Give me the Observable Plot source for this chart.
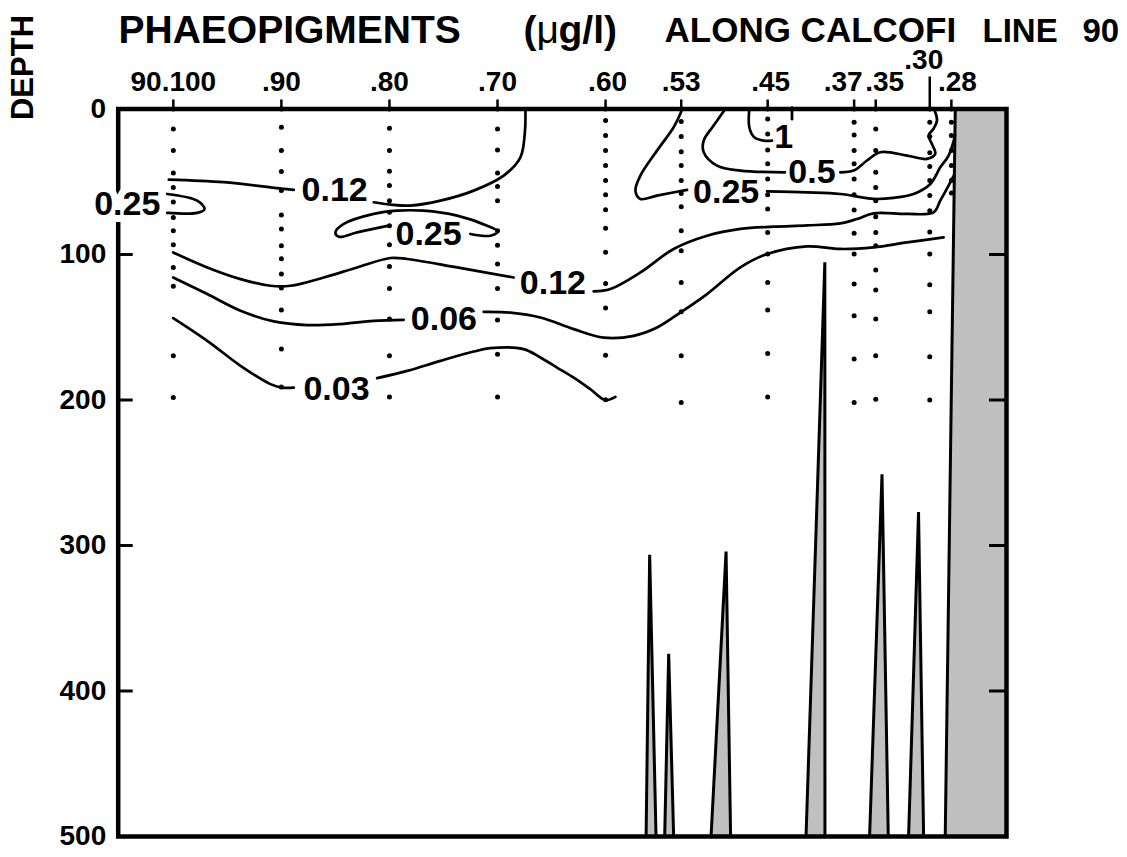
<!DOCTYPE html>
<html><head><meta charset="utf-8">
<script src="https://cdn.jsdelivr.net/npm/d3@7"></script>
<script src="https://cdn.jsdelivr.net/npm/@observablehq/plot@0.6"></script>
<style>body{margin:0;background:#fff} svg{display:block}</style>
</head><body><div id="chart"></div>
<script>
const FONT = '"Liberation Sans", Arial, Helvetica, sans-serif';

// Stations along CalCOFI line 90 (x) and tick labels
const stationNums = [100, 90, 80, 70, 60, 53, 45, 37, 35, 30, 28];
const stationLabels = ["90.100", ".90", ".80", ".70", ".60", ".53", ".45", ".37", ".35", ".30", ".28"];
const depthTicks = [0, 100, 200, 300, 400, 500];

// Bottle sample depths (m) per station
const sampleCasts = [
  [100, [0, 13.7, 28.6, 44, 54, 64, 74.5, 83.6, 93.3, 108.9, 121.9, 169.6, 198.3]],
  [90,  [0, 12.5, 28.6, 43, 56, 72.8, 82.5, 94, 103, 113.4, 123, 138.2, 165, 191]],
  [80,  [0, 13.2, 28.6, 42.8, 52.6, 63, 71, 80.2, 93.3, 108.2, 123.3, 144.4, 169.6, 197.9]],
  [70,  [0, 13.7, 28.1, 44, 53.3, 63, 83.6, 93.6, 106.5, 123.3, 145, 168.5, 197.9]],
  [60,  [0, 7.9, 18.2, 28.6, 38.9, 49.2, 59, 69.2, 82, 98.5, 119.9, 136.8, 169.2, 199.9]],
  [53,  [0, 8.6, 18.9, 29.3, 38.9, 49.2, 58, 67.1, 83.6, 97.4, 119.2, 139.4, 169.6, 201.8]],
  [45,  [0, 6.8, 17.1, 28.1, 37.7, 48.1, 59, 68.7, 84.8, 99.7, 119.2, 138.2, 168, 197.9]],
  [37,  [0, 9.1, 17.8, 28.6, 37.7, 48.1, 59, 69.4, 85.4, 99.7, 120.3, 142.1, 171.9, 201.8]],
  [35,  [0, 13.7, 28.6, 43.5, 54, 63, 74, 84.8, 94, 110.7, 124.4, 144.4, 169.6, 199.5]],
  [30,  [0, 9.1, 18.9, 30, 39.6, 49.2, 59.5, 69.9, 84.6, 99.7, 120.8, 139.4, 170.3, 200]],
  [28,  [0, 9.1, 18.2, 28.6, 38.9, 49.2, 57.8]]
];

// Bottom topography profile [station, depth]
const bottomProfile = [
  [105.1, 500], [56.25, 500], [55.92, 306.4], [55.33, 500],
  [54.53, 500], [54.16, 374.4], [53.70, 500],
  [50.24, 500], [48.85, 304.1], [48.43, 500],
  [41.45, 500], [39.71, 105.3], [39.70, 500],
  [35.57, 500], [34.42, 251], [33.84, 500],
  [31.96, 500], [31.04, 277], [30.57, 500],
  [28.57, 500], [27.64, 0], [22.9, 0], [22.9, 500]
];

// Contour line segments of phaeopigments (ug/l), [station, depth]; broken where labelled
const c012UpperA = [[100.42,48.5],[95.33,50.3],[89.9,54.8],[88.85,55.6]];
const c012UpperB = [[81.45,64.1],[79.91,65.7],[78.06,66.4],[75.28,63.0],[72.20,56.1],[69.43,45.8],[67.88,33.2],[67.48,17.1],[67.42,0]];
const c025Left = [[100.57,58.4],[97.79,63.0],[97.11,68.7],[97.79,71.4],[100.57,71.4]];
const c025Mid = [[80.06,80.2],[82.99,84.8],[84.69,87.8],[85.00,84.8],[84.23,79.0],[81.45,72.1],[79.29,69.9],[76.83,69.9],[73.74,73.3],[70.96,80.2],[69.98,84.3],[70.66,87.1],[72.51,85.9]];
const c012MainA = [[100.01,98.6],[96.86,108.9],[93.78,116.9],[91.01,121.5],[89.16,121.5],[86.08,115.8],[82.99,108.9],[79.91,102.4],[78.36,103.1],[73.74,108.9],[68.50,115.8]];
const c012MainB = [[61.10,125.4],[59.55,123.7],[56.78,112.3],[53.70,96.2],[50.61,87.1],[47.53,82.4],[44.45,80.9],[41.36,80.0],[38.28,78.6],[36.73,75.6],[35.20,71.7],[32.11,72.1],[29.65,71.0],[29.03,63.0],[28.26,52.6],[27.78,45.8]];
const c025RightA = [[52.92,0],[53.08,3.3],[53.70,12.5],[55.24,28.6],[56.78,45.8],[57.24,56.1],[56.78,61.8],[55.24,59.5],[52.46,55.6]];
const c025RightB = [[45.06,56.6],[41.36,57.3],[38.28,58.4],[35.20,61.8],[33.35,61.1],[31.50,58.4],[29.95,51.5],[29.03,40.1],[28.26,32.0],[27.66,18.2]];
const c05A = [[48.92,0],[50.00,11.4],[50.92,21.7],[50.92,29.7],[49.69,38.9],[47.53,42.3],[43.37,43.5]];
const c05B = [[38.28,43.5],[37.05,42.3],[35.81,35.4],[34.58,29.7],[32.11,32.0],[30.26,34.3],[29.49,30.8],[29.80,24.0],[30.11,18.2],[29.65,13.6],[29.33,7.9],[29.49,2.2],[29.65,0]];
const c1A = [[46.70,0],[46.70,12.5],[46.24,19.4],[45.37,21.7],[44.6,21.7]];
const c1B = [[42.75,-1],[42.75,7]];
const c006A = [[100.01,115.8],[96.86,127.2],[93.78,138.7],[90.70,146.0],[87.61,148.5],[84.53,147.8],[81.45,145.6],[78.68,144.9]];
const c006B = [[71.28,139.4],[68.81,139.9],[66.03,143.3],[62.95,151.3],[60.18,157.1],[57.40,155.9],[55.24,150.2],[53.08,139.9],[50.61,127.2],[47.53,108.9],[45.06,99.7],[41.36,94.4],[38.28,96.2],[35.20,95.1],[32.11,91.7],[28.72,88.2]];
const c003A = [[100.01,143.7],[96.86,159.3],[93.78,176.5],[91.01,189.1],[89.93,191.5],[88.85,191.5]];
const c003B = [[81.14,185.0],[78.36,180.0],[75.28,173.1],[72.20,166.7],[70.66,164.3],[67.58,165.0],[66.03,170.8],[64.49,177.7],[62.95,184.6],[61.40,192.6],[60.02,200.1],[59.09,197.9]];

// Contour labels
const labelTexts    = ["0.25", "0.12", "0.25", "0.12", "0.06", "0.03", "0.25", "0.5", "1"];
const labelStations = [104.26, 85.07, 76.38, 64.87, 74.96, 84.90, 48.84, 40.90, 43.52];
const labelDepths   = [65.2, 55.6, 85.9, 119.8, 144.4, 192.6, 57.3, 43.5, 19.4];

// ---- build tables ----
const samples = sampleCasts.flatMap(([s, ds]) => ds.map(d => ({station: s, depth: d})));
const bottom = bottomProfile.map(([s, d]) => ({station: s, depth: d}));
const segments = {c012UpperA, c012UpperB, c025Left, c025Mid, c012MainA, c012MainB, c025RightA, c025RightB,
  c05A, c05B, c1A, c1B, c006A, c006B, c003A, c003B};
const contourRows = Object.entries(segments).flatMap(([id, pts]) => pts.map(([s, d]) => ({id, station: s, depth: d})));
const contourLabels = labelTexts.map((t, i) => ({text: t, station: labelStations[i], depth: labelDepths[i]}));
const stations = stationNums.map((s, i) => ({station: s, label: stationLabels[i]}));

const W = 1127, H = 857;
const mL = 117.7, mR = 121, mT = 108.5, mB = 21;
const innerW = W - mL - mR;

const nudge = {".37": [-11, 0], ".35": [9, 0], ".30": [-6, -22], ".28": [6, 0], ".45": [3, 0], ".60": [2, 0]};
const labelMarks = stations.map(d => {
  const [ndx, ndy] = nudge[d.label] || [0, 0];
  return Plot.text([d], {x: "station", text: "label", frameAnchor: "top", lineAnchor: "middle", textAnchor: "middle",
    dy: -27 + ndy, dx: ndx, fontSize: 28, fontWeight: "bold", fontFamily: FONT, fill: "black"});
});

const titleBase = {frameAnchor: "top-left", lineAnchor: "bottom", textAnchor: "start", fontWeight: "bold", fontFamily: FONT, fill: "black"};
const labelStyle = {x: "station", y: "depth", text: "text", fontSize: 34, fontWeight: "bold", fontFamily: FONT,
  fill: "black", stroke: "white", paintOrder: "stroke", strokeLinejoin: "round"};

const chart = Plot.plot({
  width: W, height: H,
  marginLeft: mL, marginRight: mR, marginTop: mT, marginBottom: mB,
  style: {fontFamily: FONT, background: "white"},
  x: {domain: [105.1, 22.9], axis: null},
  y: {domain: [0, 500], reverse: true, axis: null},
  marks: [
    Plot.areaY(bottom, {x: "station", y1: 500, y2: "depth", fill: "#c0c0c0"}),
    Plot.line(bottom, {x: "station", y: "depth", stroke: "black", strokeWidth: 3, strokeLinejoin: "miter"}),
    Plot.dot(samples, {x: "station", y: "depth", r: 2.5, fill: "black"}),
    Plot.line(contourRows, {x: "station", y: "depth", z: "id", curve: "catmull-rom", stroke: "black", strokeWidth: 2.7}),
    Plot.frame({stroke: "black", strokeWidth: 4.5}),
    // top station ticks
    Plot.axisX({anchor: "top", ticks: stationNums.filter(s => s !== 30), tickSize: 10, tickFormat: () => "", strokeWidth: 2.5, label: null}),
    Plot.axisX({anchor: "top", ticks: [30], tickSize: 33, tickFormat: () => "", strokeWidth: 2.5, label: null}),
    // inward depth ticks left and right
    Plot.ruleY(depthTicks.slice(1, -1), {y: d => d, insetRight: innerW - 15, stroke: "black", strokeWidth: 3}),
    Plot.ruleY(depthTicks.slice(1, -1), {y: d => d, insetLeft: innerW - 17, stroke: "black", strokeWidth: 3}),
    // contour labels (white halo; the one over the left frame gets a wider halo)
    Plot.text(contourLabels.slice(0, 1), {...labelStyle, strokeWidth: 14}),
    Plot.text(contourLabels.slice(1), {...labelStyle, strokeWidth: 7}),
    // depth labels
    Plot.text(depthTicks, {y: d => d, text: d => String(d), frameAnchor: "left", textAnchor: "end", lineAnchor: "middle", dx: -12,
      fontSize: 28, fontWeight: "bold", fontFamily: FONT, fill: "black"}),
    ...labelMarks,
    Plot.text(["DEPTH"], {frameAnchor: "top-left", textAnchor: "middle", lineAnchor: "middle", rotate: -90,
      dx: 23 - mL, dy: 67 - mT, fontSize: 31, fontWeight: "bold", fontFamily: FONT, fill: "black"}),
    // title
    Plot.text(["PHAEOPIGMENTS"], {...titleBase, dx: 118 - mL, dy: 42 - mT, fontSize: 39}),
    Plot.text(["("], {...titleBase, dx: 523 - mL, dy: 42 - mT, fontSize: 39}),
    Plot.text(["\u03bc"], {...titleBase, fontWeight: "normal", dx: 536 - mL, dy: 42 - mT, fontSize: 39}),
    Plot.text(["g/l)"], {...titleBase, dx: 558 - mL, dy: 42 - mT, fontSize: 39}),
    Plot.text(["ALONG CALCOFI"], {...titleBase, dx: 664 - mL, dy: 41 - mT, fontSize: 35}),
    Plot.text(["LINE"], {...titleBase, dx: 982 - mL, dy: 41 - mT, fontSize: 33}),
    Plot.text(["90"], {...titleBase, dx: 1082 - mL, dy: 41 - mT, fontSize: 33})
  ]
});
document.getElementById("chart").appendChild(chart);
</script></body></html>
